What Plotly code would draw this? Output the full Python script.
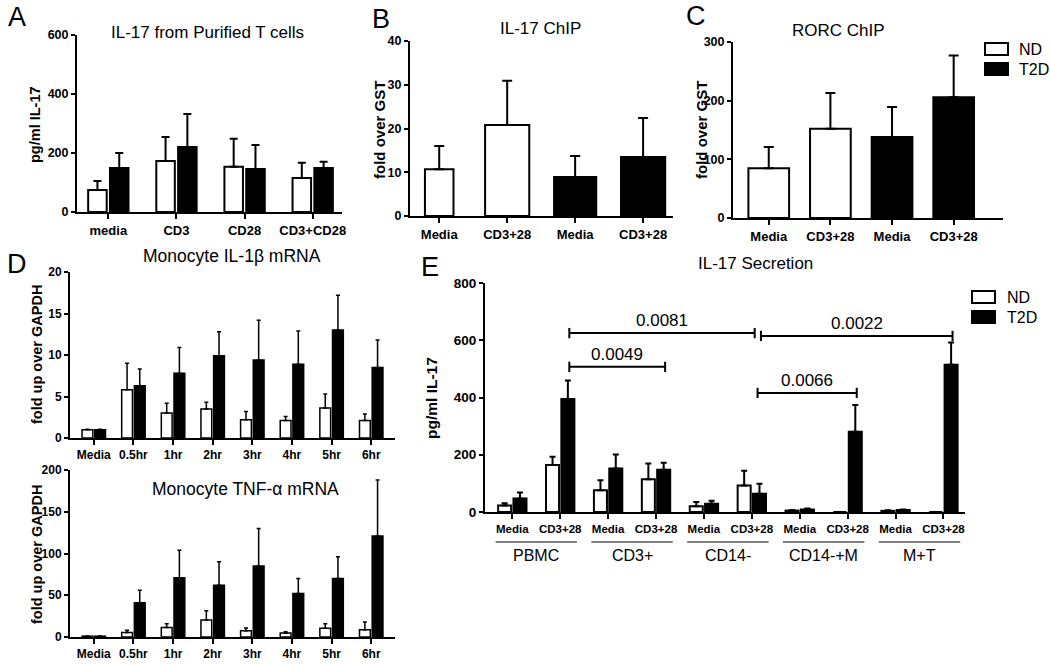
import plotly.graph_objects as go

W, H = 1050, 665
FONT = "Liberation Sans, Arial, sans-serif"

# ---------------- data ----------------
# Panel A
a_cats = ["media", "CD3", "CD28", "CD3+CD28"]
a_nd = [75, 173, 153, 115]
a_nd_err = [30, 81, 95, 52]
a_t2d = [149, 220, 146, 149]
a_t2d_err = [51, 112, 81, 21]

# Panel B (IL-17 ChIP)
b_cats = ["Media", "CD3+28", "Media", "CD3+28"]
b_group = ["ND", "ND", "T2D", "T2D"]
b_vals = [10.7, 20.8, 8.9, 13.5]
b_err = [5.3, 10.1, 4.8, 8.9]

# Panel C (RORC ChIP)
c_cats = ["Media", "CD3+28", "Media", "CD3+28"]
c_group = ["ND", "ND", "T2D", "T2D"]
c_vals = [85, 152, 138, 206]
c_err = [36, 61, 51, 71]

# Panel D
d_cats = ["Media", "0.5hr", "1hr", "2hr", "3hr", "4hr", "5hr", "6hr"]
d1_nd = [1.0, 5.8, 3.0, 3.5, 2.2, 2.1, 3.6, 2.1]
d1_nd_err = [0.05, 3.2, 1.2, 0.8, 1.0, 0.5, 1.7, 0.8]
d1_t2d = [1.0, 6.3, 7.8, 9.9, 9.4, 8.9, 13.0, 8.5]
d1_t2d_err = [0.05, 2.0, 3.1, 2.9, 4.8, 4.0, 4.2, 3.3]
d2_nd = [1, 5.5, 11.5, 20.5, 7.5, 4.8, 10.4, 8.8]
d2_nd_err = [0.3, 2.5, 4.5, 11, 3.2, 1.6, 5.6, 9.2]
d2_t2d = [1, 41, 71, 62, 85, 52, 70, 121]
d2_t2d_err = [0.3, 15, 33, 28, 45, 18, 26, 67]

# Panel E
e_cats = ["Media", "CD3+28"] * 5
e_groups = ["PBMC", "CD3+", "CD14-", "CD14-+M", "M+T"]
e_nd = [23, 164, 76, 114, 20, 93, 5, 0, 4, 0]
e_nd_err = [8, 29, 35, 55, 15, 51, 2, 0, 2, 0]
e_t2d = [47, 395, 152, 148, 29, 64, 9, 280, 7, 514]
e_t2d_err = [21, 64, 49, 24, 10, 35, 3, 94, 2, 78]
# significance comparisons: (label, from category, to category, y level)
e_pvals = [("0.0081", 1, 5, 625), ("0.0049", 1, 3, 507),
           ("0.0022", 5, 9, 615), ("0.0066", 5, 7, 416)]

# ---------------- helpers ----------------
def fx(px):
    return px / W


def fy(py):
    return 1 - py / H


fig = go.Figure()
shapes = []
annos = []

COL = {"ND": "white", "T2D": "black"}


def err(arr, th=2, w=4):
    return dict(type="data", array=arr, arrayminus=[0] * len(arr), symmetric=False,
                color="black", thickness=th, width=w, visible=True)


def pair(xa, ya, n, nd, nd_e, t2, t2_e, th=2, w=4, lw=2):
    xs = list(range(n))
    fig.add_trace(go.Bar(x=xs, y=nd, error_y=err(nd_e, th, w), xaxis=xa, yaxis=ya,
                         marker=dict(color="white", line=dict(color="black", width=lw)),
                         name="ND", showlegend=False))
    fig.add_trace(go.Bar(x=xs, y=t2, error_y=err(t2_e, th, w), xaxis=xa, yaxis=ya,
                         marker=dict(color="black", line=dict(color="black", width=lw)),
                         name="T2D", showlegend=False))


pair("x", "y", len(a_cats), a_nd, a_nd_err, a_t2d, a_t2d_err)
fig.add_trace(go.Bar(x=list(range(len(b_cats))), y=b_vals, error_y=err(b_err, 2, 5),
                     xaxis="x2", yaxis="y2", width=[0.42, 0.65, 0.62, 0.65],
                     marker=dict(color=[COL[g] for g in b_group], line=dict(color="black", width=2)),
                     showlegend=False))
fig.add_trace(go.Bar(x=list(range(len(c_cats))), y=c_vals, error_y=err(c_err, 2, 5),
                     xaxis="x3", yaxis="y3", width=[0.66, 0.66, 0.66, 0.66],
                     marker=dict(color=[COL[g] for g in c_group], line=dict(color="black", width=2)),
                     showlegend=False))
pair("x4", "y4", len(d_cats), d1_nd, d1_nd_err, d1_t2d, d1_t2d_err, th=1.5, w=2, lw=1.5)
pair("x5", "y5", len(d_cats), d2_nd, d2_nd_err, d2_t2d, d2_t2d_err, th=1.5, w=2, lw=1.5)
pair("x6", "y6", len(e_cats), e_nd, e_nd_err, e_t2d, e_t2d_err, th=2, w=3)


def xax(x0, x1, anchor, cats, rng, size):
    return dict(domain=[fx(x0), fx(x1)], anchor=anchor, range=rng,
                tickmode="array", tickvals=list(range(len(cats))), ticktext=cats,
                showline=True, linecolor="black", linewidth=2, ticks="outside",
                ticklen=5, tickwidth=2, tickcolor="black", showgrid=False, zeroline=False,
                tickfont=dict(family=FONT, size=size, color="black", weight="bold"),
                automargin=False, fixedrange=True)


def yax(y0, y1, anchor, rng, dtick, size):
    return dict(domain=[fy(y1), fy(y0)], anchor=anchor, range=rng, dtick=dtick,
                tick0=0, showline=True, linecolor="black", linewidth=2, ticks="outside",
                ticklen=4, tickwidth=2, tickcolor="black", showgrid=False, zeroline=False,
                tickfont=dict(family=FONT, size=size, color="black", weight="bold"),
                automargin=False, fixedrange=True)


layout = dict(
    width=W, height=H, margin=dict(l=0, r=0, t=0, b=0),
    paper_bgcolor="white", plot_bgcolor="white",
    barmode="group", bargap=0.36, bargroupgap=0.15,
    showlegend=False,
    xaxis=xax(77, 342, "y", a_cats, [-0.46, 3.43], 13),
    yaxis=yax(35, 212, "x", [0, 600], 200, 12.5),
    xaxis2=xax(410, 673, "y2", b_cats, [-0.43, 3.44], 13),
    yaxis2=yax(41, 216, "x2", [0, 40], 10, 12.5),
    xaxis3=xax(733, 1003, "y3", c_cats, [-0.58, 3.8], 13),
    yaxis3=yax(42, 218, "x3", [0, 300], 100, 12.5),
    xaxis4=xax(70, 395, "y4", d_cats, [-0.6, 7.6], 12),
    yaxis4=yax(272, 438, "x4", [0, 20], 5, 12),
    xaxis5=xax(70, 395, "y5", d_cats, [-0.6, 7.6], 12),
    yaxis5=yax(470, 637, "x5", [0, 200], 50, 12),
    xaxis6=xax(485, 965, "y6", e_cats, [-0.57, 9.45], 11.5),
    yaxis6=yax(283, 512, "x6", [0, 800], 200, 13.5),
)


def text(t, px, py, size=15, bold=False, angle=0, anchor="center"):
    annos.append(dict(text=t, x=fx(px), y=fy(py), xref="paper", yref="paper",
                      showarrow=False, xanchor=anchor, yanchor="middle", textangle=angle,
                      font=dict(family=FONT, size=size, color="black",
                                weight="bold" if bold else "normal")))


# panel letters
for t, px, py in [("A", 17, 17), ("B", 381, 19), ("C", 696, 16), ("D", 17, 264), ("E", 430, 267)]:
    text(t, px, py, size=27)

# titles
text("IL-17 from Purified T cells", 207, 33, 17)
text("IL-17 ChIP", 540, 28, 17)
text("RORC ChIP", 838, 31, 17)
text("Monocyte IL-1β mRNA", 232, 256, 17.5)
text("Monocyte TNF-α mRNA", 245, 489, 17.5)
text("IL-17 Secretion", 755, 264, 17)

# y-axis titles
text("pg/ml IL-17", 35, 125, 14.5, True, -90)
text("fold over GST", 379, 130, 15, True, -90)
text("fold over GST", 701, 130, 15, True, -90)
text("fold up over GAPDH", 37, 355, 14.5, True, -90)
text("fold up over GAPDH", 37, 555, 14.5, True, -90)
text("pg/ml IL-17", 431, 398, 15.5, True, -90)

# legends (C and E)
for bx, by, tx in [(985, 43, 1017), (972, 291, 1005)]:
    for i, g in enumerate(["ND", "T2D"]):
        y0 = by + i * 20
        shapes.append(dict(type="rect", xref="paper", yref="paper",
                           x0=fx(bx), x1=fx(bx + 23), y0=fy(y0 + 12), y1=fy(y0),
                           line=dict(color="black", width=2), fillcolor=COL[g]))
        text(g, tx, y0 + 6, 16, anchor="left")

# E group labels with underlines
for i, g in enumerate(e_groups):
    x0, x1 = 2 * i - 0.35, 2 * i + 1 + 0.35
    shapes.append(dict(type="line", xref="x6", yref="paper", x0=x0, x1=x1,
                       y0=fy(542), y1=fy(542), line=dict(color="black", width=1)))
    annos.append(dict(text=g, x=(x0 + x1) / 2, y=fy(555), xref="x6", yref="paper",
                      showarrow=False, xanchor="center", yanchor="middle",
                      font=dict(family=FONT, size=16, color="black")))

# E significance brackets
OFF = 0.19
for lab, c0, c1, yv in e_pvals:
    xa = c0 + OFF
    xb = c1 + (0.06 if (lab == "0.0081") else OFF)
    if lab == "0.0066":
        xa = c0 + 0.12
    shapes.append(dict(type="line", xref="x6", yref="y6", x0=xa, x1=xb, y0=yv, y1=yv,
                       line=dict(color="black", width=2)))
    for xe in (xa, xb):
        shapes.append(dict(type="line", xref="x6", yref="y6", x0=xe, x1=xe,
                           y0=yv - 18, y1=yv + 18, line=dict(color="black", width=2)))
    annos.append(dict(text=lab, x=(xa + xb) / 2, y=yv, xref="x6", yref="y6",
                      showarrow=False, xanchor="center", yanchor="bottom", yshift=1,
                      font=dict(family=FONT, size=17, color="black")))

layout["shapes"] = shapes
layout["annotations"] = annos
fig.update_layout(**layout)
fig.write_html("out.html", config={"displayModeBar": False},
               post_script="document.body.style.margin='0';document.body.style.overflow='hidden';")
